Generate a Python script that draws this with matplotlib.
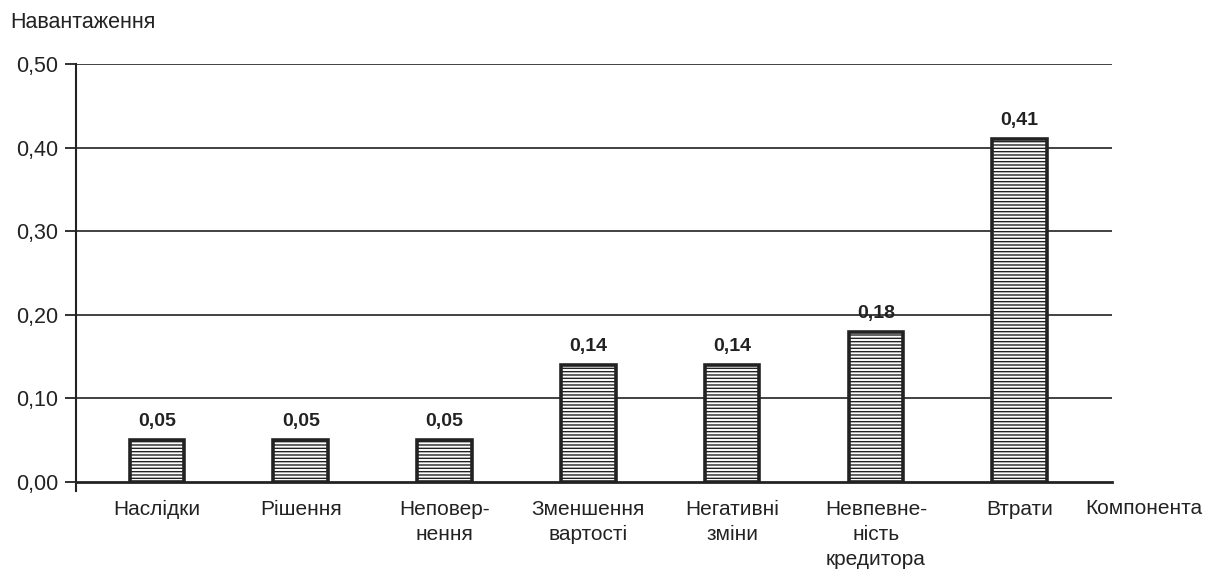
import matplotlib
matplotlib.use("Agg")
import matplotlib.pyplot as plt

plt.rcParams['font.family'] = ['Liberation Sans', 'DejaVu Sans']
plt.rcParams['hatch.linewidth'] = 1.0
plt.rcParams['hatch.color'] = '#555555'

categories = ["Наслідки", "Рішення", "Неповер-\nнення", "Зменшення\nвартості",
              "Негативні\nзміни", "Невпевне-\nність\nкредитора", "Втрати"]
values = [0.05, 0.05, 0.05, 0.14, 0.14, 0.18, 0.41]
value_labels = ["0,05", "0,05", "0,05", "0,14", "0,14", "0,18", "0,41"]
y_ticks = [0.0, 0.1, 0.2, 0.3, 0.4, 0.5]
y_tick_labels = ["0,00", "0,10", "0,20", "0,30", "0,40", "0,50"]

fig = plt.figure(figsize=(12.07, 5.76), dpi=100)
ax = fig.add_axes([0.063, 0.163, 0.858, 0.726])

x = list(range(len(categories)))
ax.set_axisbelow(True)
for yt in y_ticks[1:]:
    ax.axhline(yt, color='#333333', linewidth=1.3, zorder=0)

bars = ax.bar(x, values, width=0.38, facecolor='white', edgecolor='#222222',
              linewidth=2.6, hatch='-----', zorder=2)

for xi, v, lbl in zip(x, values, value_labels):
    ax.text(xi, v + 0.012, lbl, ha='center', va='bottom', fontsize=14,
            fontweight='bold', color='#222222', zorder=3)

ax.set_xlim(-0.5625, 6.64)
ax.set_ylim(0, 0.5)
ax.set_yticks(y_ticks)
ax.set_yticklabels(y_tick_labels, fontsize=15.5, color='#222222')
ax.set_xticks(x)
ax.set_xticklabels(categories, fontsize=15, color='#222222', linespacing=1.38)
ax.tick_params(axis='x', length=0, pad=13)
ax.tick_params(axis='y', length=8, width=1.3, color='#222222', pad=5)

for side in ['top', 'right']:
    ax.spines[side].set_visible(False)
ax.spines['left'].set_linewidth(1.5)
ax.spines['left'].set_color('#222222')
ax.spines['left'].set_bounds(-0.011, 0.5)
ax.spines['bottom'].set_linewidth(2.0)
ax.spines['bottom'].set_color('#222222')

fig.text(10 / 1207, 1 - 22 / 576, "Навантаження", fontsize=15.5, color='#222222',
         ha='left', va='center')
fig.text(1085 / 1207, 1 - 508 / 576, "Компонента", fontsize=15, color='#222222',
         ha='left', va='center')

fig.savefig("out.png", dpi=100)
